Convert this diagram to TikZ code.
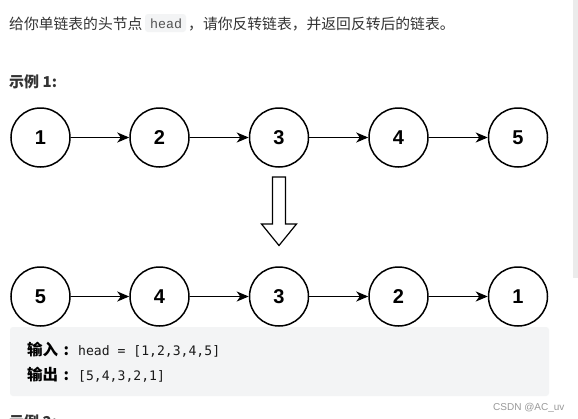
\documentclass[tikz,border=0pt]{standalone}
\usepackage{fontspec}
\setmainfont{Liberation Sans}
\newfontfamily\cjk{Noto Sans CJK SC}
\newfontfamily\codefont{DejaVu Sans Mono}
\newfontfamily\inlinecode{Liberation Mono}
\newfontfamily\numfont{Liberation Sans}
\usetikzlibrary{arrows.meta}
\definecolor{txt}{HTML}{333333}
\definecolor{codebg}{HTML}{F3F4F5}
\definecolor{scroll}{HTML}{EBEBEB}
\definecolor{wm}{HTML}{999999}
\tikzset{
  listnode/.style={circle,draw=black,line width=1.5pt,minimum size=59pt,inner sep=0pt,
    font=\numfont\fontsize{20}{20}\selectfont\bfseries},
  link/.style={-{Stealth[length=12pt,width=10pt,inset=3.5pt]},line width=1.3pt},
  plain/.style={inner sep=0pt,anchor=base west},
  bodytext/.style={plain,text=txt,font=\cjk\fontsize{14.8}{17}\selectfont},
  labeltext/.style={plain,text=black,font=\cjk\fontsize{15.5}{17}\selectfont\bfseries},
  codetext/.style={plain,text=black!90,font=\codefont\fontsize{13.1}{15}\selectfont},
}
\begin{document}
\begin{tikzpicture}[x=1pt,y=-1pt]
\useasboundingbox (0,0) rectangle (578,418);
\clip (0,0) rectangle (578,418);
\fill[white] (0,0) rectangle (578,418);
% scrollbar
\fill[scroll] (573,0) rectangle (578,278);
% top sentence
\node[bodytext] (t1) at (9,29) {给你单链表的头节点};
\fill[codebg,rounded corners=3pt] (145,14) rectangle (186,32);
\node[plain,text=txt!85,font=\inlinecode\fontsize{13.3}{15}\selectfont] (hd) at (150,28) {head};
\node[bodytext] (t2) at (188,29) {，请你反转链表，并返回反转后的链表。};
% example title
\node[plain,text=txt,font=\cjk\fontsize{15}{17}\selectfont\bfseries] (ex1) at (9,87.5) {示例 1:};
% top list
\node[listnode] (a1) at (40.5,137.5) {1};
\node[listnode] (a2) at (159.5,137.5) {2};
\node[listnode] (a3) at (279,137.5) {3};
\node[listnode] (a4) at (398.5,137.5) {4};
\node[listnode] (a5) at (518,137.5) {5};
\draw[link] (a1) -- (a2);
\draw[link] (a2) -- (a3);
\draw[link] (a3) -- (a4);
\draw[link] (a4) -- (a5);
% hollow arrow
\draw[line width=1.2pt,line join=miter,fill=white]
  (272.5,177) -- (285.5,177) -- (285.5,224) -- (296.5,224) -- (279,245.5)
  -- (261.5,224) -- (272.5,224) -- cycle;
% bottom list
\node[listnode] (b5) at (40.5,296.5) {5};
\node[listnode] (b4) at (159.5,296.5) {4};
\node[listnode] (b3) at (279,296.5) {3};
\node[listnode] (b2) at (398.5,296.5) {2};
\node[listnode] (b1) at (518,296.5) {1};
\draw[link] (b5) -- (b4);
\draw[link] (b4) -- (b3);
\draw[link] (b3) -- (b2);
\draw[link] (b2) -- (b1);
% code box
\fill[codebg,rounded corners=3pt] (10,327) rectangle (549,396);
\node[labeltext] (in) at (27,355) {输入};
\node[labeltext] (inc) at (63.5,355) {:};
\node[codetext] (inv) at (78,355) {head = [1,2,3,4,5]};
\node[labeltext] (out) at (27,380) {输出};
\node[labeltext] (outc) at (63.5,380) {:};
\node[codetext] (outv) at (78,380) {[5,4,3,2,1]};
% watermark
\node[plain,font=\fontsize{10}{12}\selectfont,text=wm] (w) at (493,410) {CSDN @AC\_uv};
% cut-off next title
\node[plain,text=txt,font=\cjk\fontsize{15}{17}\selectfont\bfseries] (ex2) at (9,427) {示例 2:};
\end{tikzpicture}
\end{document}
